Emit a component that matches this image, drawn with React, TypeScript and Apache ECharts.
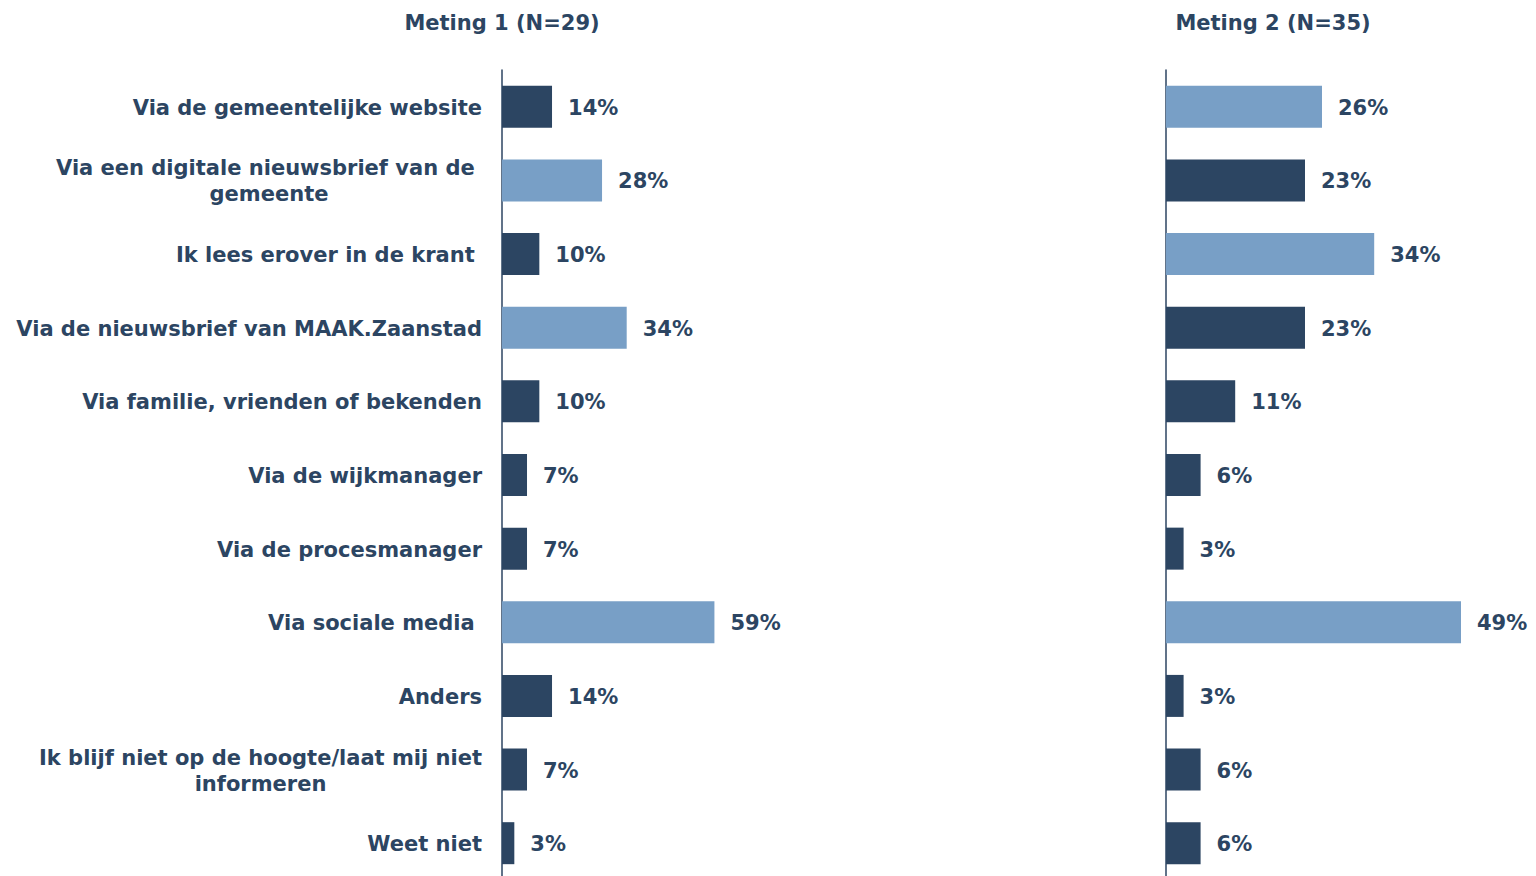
import React, { useEffect, useRef } from "react";
import * as echarts from "echarts";

const categories = [
  "Via de gemeentelijke website",
  "Via een digitale nieuwsbrief van de \ngemeente",
  "Ik lees erover in de krant ",
  "Via de nieuwsbrief van MAAK.Zaanstad",
  "Via familie, vrienden of bekenden",
  "Via de wijkmanager",
  "Via de procesmanager",
  "Via sociale media ",
  "Anders",
  "Ik blijf niet op de hoogte/laat mij niet\ninformeren",
  "Weet niet",
];

const meting1Values = [13.8, 27.6, 10.3, 34.4, 10.3, 6.9, 6.9, 58.6, 13.8, 6.9, 3.4];
const meting2Values = [25.7, 22.9, 34.3, 22.9, 11.4, 5.7, 2.9, 48.6, 2.9, 5.7, 5.7];
const meting1Title = "Meting 1 (N=29)";
const meting2Title = "Meting 2 (N=35)";

const DARK = "#2C4562";
const LIGHT = "#789FC6";
const FONT = "'DejaVu Sans', Verdana, sans-serif";
const FS = 21;

function top3Colors(values: number[]) {
  const sorted = [...values].sort((a, b) => b - a);
  const thr = sorted[2];
  return values.map((v) => (v >= thr ? LIGHT : DARK));
}

export default function App() {
  const ref = useRef<HTMLDivElement>(null);
  useEffect(() => {
    if (!ref.current) return;
    const chart = echarts.init(ref.current, null, { renderer: "svg" });
    const canvas = document.createElement("canvas");
    const ctx = canvas.getContext("2d")!;
    ctx.font = `bold ${FS}px ${FONT}`;
    const rich: Record<string, any> = {};
    categories.forEach((c, i) => {
      const lines = c.split("\n");
      const w = Math.max(...lines.map((l) => ctx.measureText(l).width));
      rich["c" + i] = {
        width: Math.ceil(w),
        align: "center",
        fontFamily: FONT,
        fontWeight: "bold",
        fontSize: FS,
        color: DARK,
        lineHeight: 26,
      };
    });
    const labelFormatter = (value: string, index: number) => {
      const lines = value.split("\n");
      if (lines.length === 1) return value;
      return lines.map((l) => `{c${index}|${l}}`).join("\n");
    };
    const makeSeries = (values: number[], idx: number) => {
      const colors = top3Colors(values);
      return {
        type: "bar",
        xAxisIndex: idx,
        yAxisIndex: idx,
        barWidth: 42,
        data: values.map((v, i) => ({ value: v, itemStyle: { color: colors[i] } })),
        label: {
          show: true,
          position: "right",
          distance: 16,
          offset: [0, 1],
          formatter: (p: any) => Math.round(p.value) + "%",
          color: DARK,
          fontFamily: FONT,
          fontWeight: "bold",
          fontSize: FS,
        },
      };
    };
    const yAxisBase = (idx: number) => ({
      type: "category",
      gridIndex: idx,
      inverse: true,
      data: categories,
      axisTick: { show: false },
      axisLine: { show: true, lineStyle: { color: DARK, width: 1.5 } },
      axisLabel: {
        show: idx === 0,
        margin: 20,
        color: DARK,
        fontFamily: FONT,
        fontWeight: "bold",
        fontSize: FS,
        align: "right",
        lineHeight: 26,
        padding: [2, 0, 0, 0],
        formatter: labelFormatter,
        rich,
      },
    });
    const titleStyle = { color: DARK, fontFamily: FONT, fontWeight: "bold", fontSize: FS };
    chart.setOption({
      animation: false,
      backgroundColor: "#ffffff",
      title: [
        { text: meting1Title, left: 502, top: 12, padding: 0, textAlign: "center", textStyle: titleStyle },
        { text: meting2Title, left: 1273, top: 12, padding: 0, textAlign: "center", textStyle: titleStyle },
      ],
      grid: [
        { left: 502, top: 70, width: 362.5, height: 810 },
        { left: 1166, top: 70, width: 364.2, height: 810 },
      ],
      xAxis: [
        { type: "value", gridIndex: 0, min: 0, max: 100, show: false },
        { type: "value", gridIndex: 1, min: 0, max: 60, show: false },
      ],
      yAxis: [yAxisBase(0), yAxisBase(1)],
      series: [makeSeries(meting1Values, 0), makeSeries(meting2Values, 1)],
    });
    return () => chart.dispose();
  }, []);
  return (
    <div
      ref={ref}
      style={{ position: "fixed", left: 0, top: 0, width: 1536, height: 900 }}
    />
  );
}
